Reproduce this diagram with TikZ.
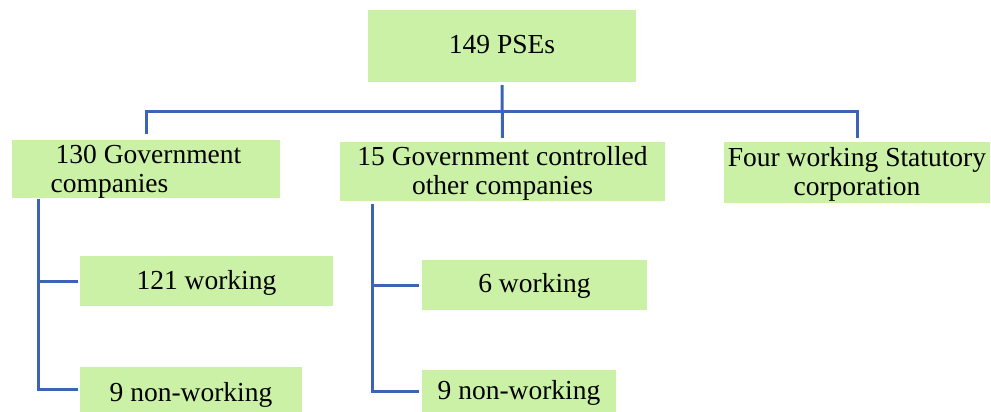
\documentclass[tikz,border=0pt]{standalone}
\usepackage{fontspec}
\setmainfont{Liberation Serif}
\definecolor{boxgreen}{RGB}{202,241,166}
\definecolor{linkblue}{RGB}{60,100,180}
\newcommand{\lowtext}[3]{\raisebox{-#1}[\height][\depth]{\begin{tabular}{@{}#2@{}}#3\end{tabular}}}
\begin{document}
\begin{tikzpicture}[x=1pt,y=-1pt,
  box/.style={rectangle, fill=boxgreen, inner sep=0pt, font=\fontsize{27.5}{29}\selectfont},
  conn/.style={draw=linkblue, line width=3pt}]
\useasboundingbox (0,0) rectangle (991,412);
\node[box, minimum width=268pt, minimum height=72pt] (top) at (502,46) {\lowtext{2pt}{c}{149 PSEs}};
\node[box, minimum width=268pt, minimum height=54pt] (gc) at (146,169) {\lowtext{3pt}{l}{\hspace*{5pt}130 Government\\companies}};
\node[box, minimum width=325pt, minimum height=59pt] (oc) at (502.5,171.5) {\lowtext{3pt}{c}{15 Government controlled\\other companies}};
\node[box, minimum width=266pt, minimum height=61pt] (sc) at (857,172.5) {\lowtext{2.5pt}{c}{Four working Statutory\\corporation}};
\node[box, minimum width=253pt, minimum height=50pt] (gw) at (206.5,281) {\lowtext{3pt}{c}{121 working}};
\node[box, minimum width=222pt, minimum height=45pt] (gnw) at (191,389.5) {\lowtext{6pt}{c}{9 non-working}};
\node[box, minimum width=225pt, minimum height=50pt] (ow) at (534.5,285) {\lowtext{2pt}{c}{6 working}};
\node[box, minimum width=194pt, minimum height=42pt] (onw) at (519,391) {\lowtext{3pt}{c}{9 non-working}};
\coordinate (bus) at (502,111);
\coordinate (gtrunk) at (38,199);
\coordinate (otrunk) at (372,204);
\draw[conn] ([yshift=-3pt]top.south) -- ([yshift=4pt]oc.north);
\draw[conn] ([yshift=6pt]gc.north) -- (gc.north |- bus) -- (sc.north |- bus) -- ([yshift=4pt]sc.north);
\draw[conn, shorten >=2pt] (gtrunk) |- (gnw.west);
\draw[conn, shorten >=2pt] (gtrunk |- gw.west) -- (gw.west);
\draw[conn, shorten >=3pt] (otrunk) |- (onw.west);
\draw[conn, shorten >=3pt] (otrunk |- ow.west) -- (ow.west);
\end{tikzpicture}
\end{document}
